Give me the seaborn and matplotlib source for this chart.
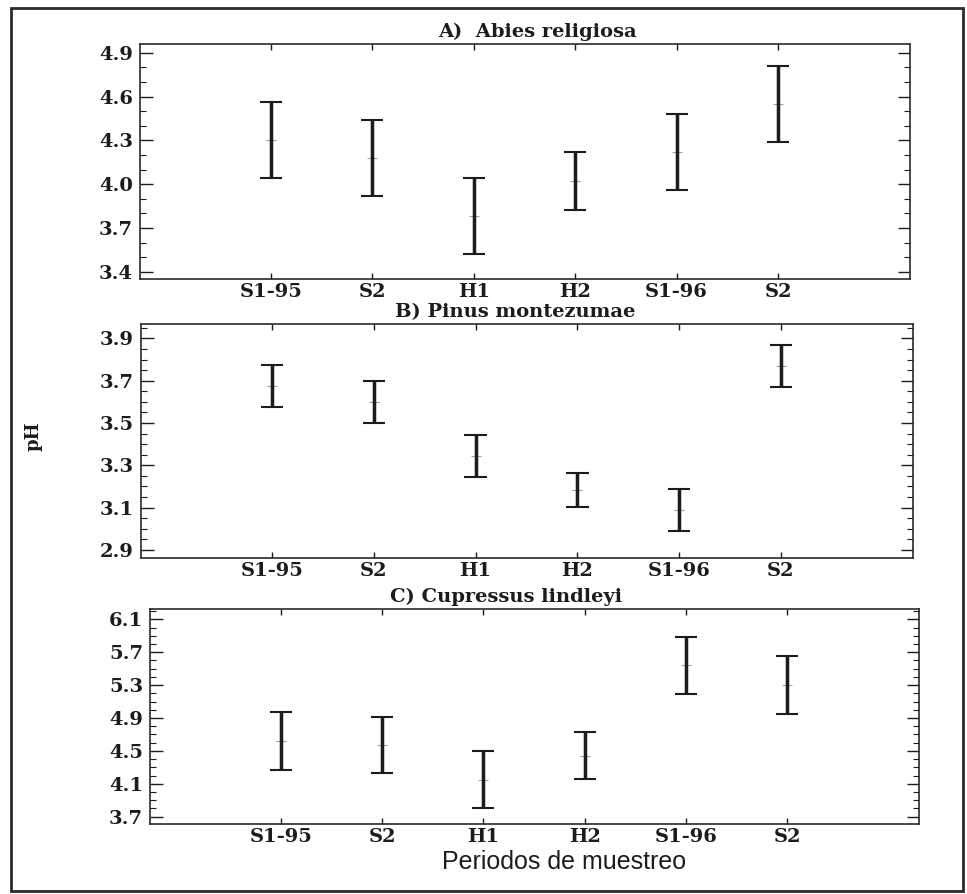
import matplotlib
matplotlib.use("Agg")
import matplotlib.pyplot as plt
from matplotlib.patches import Rectangle
from matplotlib.ticker import MultipleLocator
import numpy as np
import pandas as pd
import seaborn as sns

# Sampling periods (x categories)
periods = ["S1-95", "S2", "H1", "H2", "S1-96", "S2"]

# Mean pH and half-width of the interval for each species
abies_mean = [4.30, 4.18, 3.78, 4.02, 4.22, 4.55]
abies_half = [0.26, 0.26, 0.26, 0.20, 0.26, 0.26]

pinus_mean = [3.675, 3.60, 3.345, 3.185, 3.09, 3.77]
pinus_half = [0.10, 0.10, 0.10, 0.08, 0.10, 0.10]

cupressus_mean = [4.62, 4.57, 4.15, 4.44, 5.54, 5.30]
cupressus_half = [0.35, 0.345, 0.35, 0.285, 0.35, 0.35]

titles = ["A)  Abies religiosa", "B) Pinus montezumae", "C) Cupressus lindleyi"]
y_ticks = [
    [3.4, 3.7, 4.0, 4.3, 4.6, 4.9],
    [2.9, 3.1, 3.3, 3.5, 3.7, 3.9],
    [3.7, 4.1, 4.5, 4.9, 5.3, 5.7, 6.1],
]
y_limits = [(3.35, 4.96), (2.862, 3.968), (3.611, 6.225)]
y_minor = [0.1, 0.05, 0.1]
title_x = [538, 515, 506]

sns.set_theme(style="white")
plt.rcParams["font.family"] = ["DejaVu Serif"]

W, H = 967, 894
fig = plt.figure(figsize=(W / 100, H / 100), dpi=100)
fig.patch.set_facecolor("white")


def frac(left, top, right, bottom):
    return [left / W, 1 - bottom / H, (right - left) / W, (bottom - top) / H]


boxes = [frac(140, 44, 910, 279), frac(141, 324, 913, 558), frac(150, 609, 919, 824)]
series = [(abies_mean, abies_half), (pinus_mean, pinus_half), (cupressus_mean, cupressus_half)]

ink = "#1c1c1c"
tick_font = dict(family="DejaVu Serif", weight="bold", size=14)

for k, (box, (means, halves)) in enumerate(zip(boxes, series)):
    ax = fig.add_axes(box)
    rows = []
    for i, (m, h) in enumerate(zip(means, halves)):
        rows.append({"period": i, "pH": m - h})
        rows.append({"period": i, "pH": m + h})
    df = pd.DataFrame(rows)

    # thin whiskers with caps, plus a faint mark at the mean
    sns.pointplot(data=df, x="period", y="pH", estimator="mean",
                  errorbar=("pi", 100), capsize=0.22, linestyle="none",
                  marker="_", markersize=7, markeredgewidth=0.8,
                  color="#a0a0a0",
                  err_kws={"linewidth": 1.5, "color": ink, "solid_capstyle": "butt"},
                  ax=ax)
    # heavier vertical stroke of each interval
    sns.pointplot(data=df, x="period", y="pH", estimator="mean",
                  errorbar=("pi", 100), capsize=0, linestyle="none",
                  marker="", color=ink,
                  err_kws={"linewidth": 2.5, "color": ink, "solid_capstyle": "butt"},
                  ax=ax)

    ax.set_xlim(-1.29, 6.3)
    ax.set_ylim(*y_limits[k])
    ax.set_yticks(y_ticks[k])
    ax.set_yticklabels([f"{t:.1f}" for t in y_ticks[k]], fontdict=tick_font)
    ax.yaxis.set_minor_locator(MultipleLocator(y_minor[k]))
    ax.set_xticks(range(len(periods)))
    ax.set_xticklabels(periods, fontdict=tick_font)
    ax.set_xlabel("")
    ax.set_ylabel("")

    ax.tick_params(axis="y", which="major", direction="in", length=9, width=1.0,
                   left=True, right=True, pad=5, colors=ink)
    ax.tick_params(axis="y", which="minor", direction="in", length=4.5, width=0.8,
                   left=True, right=True, colors=ink)
    ax.tick_params(axis="x", which="major", direction="in", length=4, width=1.0,
                   bottom=True, top=True, pad=3, colors=ink)
    for s in ax.spines.values():
        s.set_visible(True)
        s.set_color("#2a2a2a")
        s.set_linewidth(1.2)
    ax.set_facecolor("white")

    top_px = H * (1 - (box[1] + box[3]))
    fig.text(title_x[k] / W, 1 - (top_px - 12) / H, titles[k], ha="center", va="center",
             family="DejaVu Serif", weight="bold", size=14, color=ink)

fig.text(34 / W, 1 - 436 / H, "pH", rotation=90, ha="center", va="center",
         family="DejaVu Serif", weight="bold", size=13, color=ink)
fig.text(564 / W, 1 - 862 / H, "Periodos de muestreo", ha="center", va="center",
         family="Liberation Sans", size=18, color=ink)

# outer frame around the whole figure
fig.add_artist(Rectangle((11 / W, 1 - 891 / H), (963 - 11) / W, (891 - 8) / H,
                         transform=fig.transFigure, fill=False,
                         edgecolor="#2a2a2a", linewidth=2))

fig.savefig("out.png", dpi=100, facecolor="white")
